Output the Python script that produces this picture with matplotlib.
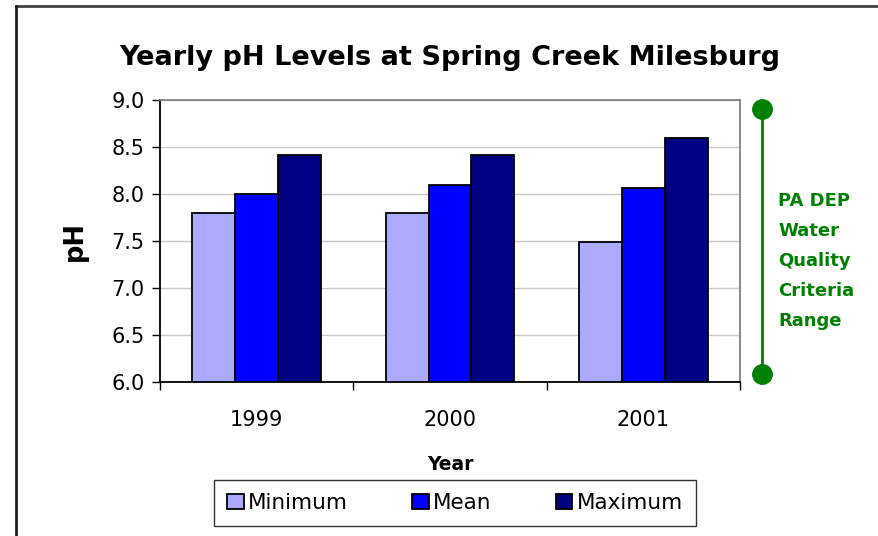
import matplotlib
matplotlib.use("Agg")
import matplotlib.pyplot as plt
from matplotlib.lines import Line2D
import numpy as np

plt.rcParams['font.family'] = ['DejaVu Sans']

years = ["1999", "2000", "2001"]
series_names = ["Minimum", "Mean", "Maximum"]
minimum = [7.8, 7.8, 7.49]
mean = [8.0, 8.1, 8.06]
maximum = [8.41, 8.41, 8.6]
colors = ["#AAAAFF", "#0000FF", "#000080"]
y_ticks = [6.0, 6.5, 7.0, 7.5, 8.0, 8.5, 9.0]
criteria_text = "PA DEP\nWater\nQuality\nCriteria\nRange"

W, H = 879, 536
fig = plt.figure(figsize=(W / 100, H / 100), dpi=100)
ax = fig.add_axes([160 / W, 1 - 382 / H, 580 / W, 282 / H])

x = np.arange(len(years))
bw = 1 / 4.5
for i, (vals, c, name) in enumerate(zip([minimum, mean, maximum], colors, series_names)):
    ax.bar(x + (i - 1) * bw, np.array(vals) - 6.0, bottom=6.0, width=bw, color=c,
           edgecolor="black", linewidth=1.3, label=name, zorder=3)

ax.set_xlim(-0.5, len(years) - 0.5)
ax.set_ylim(6.0, 9.0)
ax.set_yticks(y_ticks)
ax.set_yticklabels([f"{v:.1f}" for v in y_ticks], fontsize=15)
ax.set_xticks(x)
ax.set_xticklabels(years, fontsize=15)
ax.set_xticks(np.arange(-0.5, len(years)), minor=True)
ax.tick_params(axis="x", which="major", length=0, pad=20)
ax.tick_params(axis="x", which="minor", length=6, width=1, direction="out")
ax.tick_params(axis="y", length=6, width=1, direction="out", pad=5)
ax.grid(axis="y", color="#c8c8c8", linewidth=1, zorder=0)
for s in ["top", "right"]:
    ax.spines[s].set_color("#808080")
    ax.spines[s].set_linewidth(1.3)
for s in ["left", "bottom"]:
    ax.spines[s].set_color("black")
    ax.spines[s].set_linewidth(1.3)

ax.set_ylabel("pH", fontsize=18.5, fontweight="bold", labelpad=17)
ax.set_xlabel("Year", fontsize=13.5, fontweight="bold", labelpad=18)
fig.text(450 / W, 1 - 58 / H, "Yearly pH Levels at Spring Creek Milesburg",
         ha="center", va="center", fontsize=19.5, fontweight="bold")

leg = ax.legend(loc="center", bbox_to_anchor=(455 / W, 1 - 503 / H), bbox_transform=fig.transFigure,
                ncol=3, frameon=True, fancybox=False, fontsize=15.5, handlelength=0.75,
                handleheight=0.75, handletextpad=0.2, columnspacing=3.0, borderpad=0.6,
                edgecolor="black", borderaxespad=0)
leg.get_frame().set_linewidth(1.0)

# criteria range marker
green = "#008000"
fig.add_artist(Line2D([762 / W, 762 / W], [1 - 109 / H, 1 - 374 / H], color=green, linewidth=2))
fig.add_artist(Line2D([762 / W, 762 / W], [1 - 109 / H, 1 - 374 / H], color=green, linestyle="none",
                      marker="o", markersize=14, markeredgecolor=green))
fig.text(778 / W, 1 - 261 / H, criteria_text, ha="left", va="center", color=green,
         fontsize=13, fontweight="bold", linespacing=1.87)

# outer frame (top and left edges)
fig.add_artist(Line2D([16 / W, 1], [1 - 6 / H, 1 - 6 / H], color="#404040", linewidth=2))
fig.add_artist(Line2D([16 / W, 16 / W], [1 - 6 / H, 0], color="#202020", linewidth=2))

fig.savefig("out.png", dpi=100, facecolor="white")
